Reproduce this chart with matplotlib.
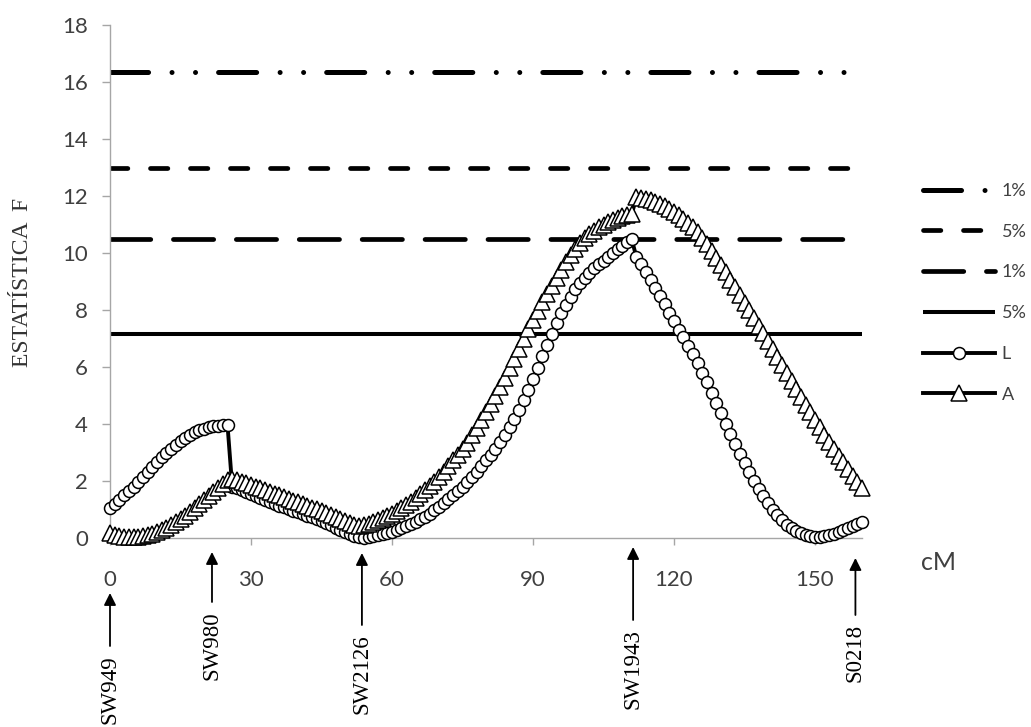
import matplotlib
matplotlib.use("Agg")
import matplotlib.pyplot as plt

plt.rcParams['font.family'] = ['Lato', 'DejaVu Sans']
plt.rcParams['lines.scale_dashes'] = False

# ---------------- data ----------------
cm = list(range(0, 161))

L_vals = [1.06, 1.2, 1.35, 1.5, 1.65, 1.8, 1.96, 2.13, 2.3, 2.48, 2.66, 2.83, 2.99, 3.14, 3.28,
          3.41, 3.52, 3.62, 3.71, 3.78, 3.84, 3.88, 3.92, 3.94, 3.96, 3.97,
          1.8, 1.74, 1.68, 1.62, 1.55, 1.48, 1.41, 1.34, 1.27, 1.2, 1.14, 1.08, 1.02, 0.96, 0.9,
          0.84, 0.78, 0.72, 0.65, 0.58, 0.51, 0.44, 0.36, 0.28, 0.2, 0.13, 0.07, 0.02, 0.01,
          0.03, 0.06, 0.09, 0.13, 0.17, 0.21, 0.27, 0.34, 0.41, 0.49, 0.57, 0.66, 0.74, 0.85,
          0.97, 1.1, 1.23, 1.36, 1.5, 1.64, 1.8, 1.97, 2.15, 2.33, 2.52, 2.72, 2.92, 3.13, 3.37,
          3.62, 3.88, 4.18, 4.5, 4.84, 5.2, 5.58, 5.98, 6.38, 6.78, 7.17, 7.54, 7.88, 8.19, 8.47,
          8.72, 8.94, 9.13, 9.3, 9.46, 9.6, 9.73, 9.85, 10.0, 10.13, 10.26, 10.38, 10.49,
          9.85, 9.6, 9.33, 9.06, 8.78, 8.5, 8.2, 7.9, 7.6, 7.3, 7.05, 6.75, 6.45, 6.13, 5.8, 5.46,
          5.1, 4.74, 4.37, 4.0, 3.64, 3.3, 2.95, 2.62, 2.3, 2.0, 1.72, 1.46, 1.22, 1.0, 0.8, 0.62,
          0.47, 0.34, 0.24, 0.16, 0.1, 0.06, 0.04, 0.04, 0.06, 0.1, 0.15, 0.21, 0.28, 0.35, 0.42,
          0.5, 0.57]

A_vals = [0.18, 0.12, 0.07, 0.04, 0.02, 0.02, 0.03, 0.06, 0.1, 0.15, 0.21, 0.28, 0.36, 0.45,
          0.55, 0.66, 0.78, 0.91, 1.04, 1.18, 1.32, 1.47, 1.62, 1.77, 1.91, 2.03, 2.07,
          2.03, 1.98, 1.92, 1.86, 1.8, 1.74, 1.68, 1.62, 1.56, 1.5, 1.44, 1.38, 1.31, 1.25, 1.19,
          1.13, 1.07, 1.01, 0.94, 0.88, 0.81, 0.74, 0.67, 0.6, 0.53, 0.47, 0.43,
          0.45, 0.5, 0.56, 0.62, 0.69, 0.77, 0.85, 0.95, 1.05, 1.16, 1.28, 1.4, 1.53, 1.67, 1.82,
          1.98, 2.15, 2.33, 2.52, 2.72, 2.92, 3.13, 3.35, 3.6, 3.87, 4.13, 4.41, 4.7, 5.0, 5.3,
          5.62, 5.95, 6.29, 6.64, 6.99, 7.33, 7.66, 7.98, 8.28, 8.57, 8.85, 9.12, 9.4, 9.68, 9.93,
          10.15, 10.35, 10.51, 10.65, 10.78, 10.9, 11.0, 11.09, 11.17, 11.24, 11.3, 11.35, 11.36,
          11.95, 11.93, 11.9, 11.86, 11.8, 11.73, 11.65, 11.55, 11.45, 11.33, 11.2, 11.05, 10.9,
          10.72, 10.52, 10.3, 10.07, 9.83, 9.58, 9.32, 9.06, 8.8, 8.53, 8.26, 7.99, 7.72, 7.45,
          7.18, 6.9, 6.62, 6.34, 6.06, 5.78, 5.5, 5.22, 4.95, 4.68, 4.41, 4.14, 3.88, 3.62, 3.37,
          3.12, 2.88, 2.65, 2.42, 2.19, 1.97, 1.75]

threshold_values = [16.35, 13.0, 10.5, 7.15]
threshold_labels = ['1%', '5%', '1%', '5%']
series_labels = ['L', 'A']

marker_names = ['SW949', 'SW980', 'SW2126', 'SW1943', 'S0218']
marker_pos = [0, 21.7, 53.6, 111.3, 158.6]

x_ticks = [0, 30, 60, 90, 120, 150]
y_ticks = [0, 2, 4, 6, 8, 10, 12, 14, 16, 18]

# ---------------- figure ----------------
W, H = 1031, 727
fig = plt.figure(figsize=(W / 100, H / 100), dpi=100)
ax = fig.add_axes([110 / W, 1 - 538 / H, (862 - 110) / W, (538 - 25) / H])

ax.set_xlim(0, 160)
ax.set_ylim(0, 18)

thr_styles = [
    dict(lw=3.6, dashes=[27.4, 16.9, 0.01, 16.9, 0.01, 16.6], dash_capstyle='round'),
    dict(lw=3.4, dashes=[12.5, 16.3], dash_capstyle='round'),
    dict(lw=3.4, dashes=[29.0, 16.3], dash_capstyle='round'),
    dict(lw=2.9, solid_capstyle='butt'),
]

handles = []
for v, st in zip(threshold_values, thr_styles):
    ln, = ax.plot([cm[0], cm[-1]], [v, v], color='black', zorder=2, **st)
    handles.append(ln)

lL, = ax.plot(cm, L_vals, color='black', lw=2.8, marker='o', ms=8.6, mfc='white',
              mec='black', mew=1.1, zorder=3, clip_on=False)
lA, = ax.plot(cm, A_vals, color='black', lw=2.8, marker='^', ms=11.0, mfc='white',
              mec='black', mew=1.1, zorder=4, clip_on=False)
handles += [lL, lA]

# axes styling
for s in ['top', 'right']:
    ax.spines[s].set_visible(False)
for s in ['left', 'bottom']:
    ax.spines[s].set_color('#a6a6a6')
    ax.spines[s].set_linewidth(1.0)
ax.set_xticks(x_ticks)
ax.set_yticks(y_ticks)
ax.tick_params(axis='y', direction='out', length=6, width=1, color='#a6a6a6',
               labelsize=16, labelcolor='#404040', pad=10)
ax.tick_params(axis='x', direction='out', length=5, width=1, color='#a6a6a6',
               labelsize=16, labelcolor='#404040', pad=18)

fig.text(23 / W, 1 - 282 / H, 'ESTATÍSTICA  F', rotation=90, ha='center', va='center',
         fontsize=17, family=['Liberation Serif', 'DejaVu Serif'], color='#333333')

fig.text(938 / W, 1 - 562 / H, 'cM', ha='center', va='center', fontsize=18, color='#404040')

# marker arrows
tips = [593, 552, 553, 547, 558]
tails = [646, 602, 625, 620, 615]
for name, pos, tip, tail in zip(marker_names, marker_pos, tips, tails):
    ax.annotate('', xy=(pos, H - tip), xycoords=('data', 'figure pixels'),
                xytext=(pos, H - tail), textcoords=('data', 'figure pixels'),
                arrowprops=dict(arrowstyle='-|>', color='black', lw=1.3,
                                mutation_scale=18, shrinkA=0, shrinkB=0),
                annotation_clip=False)
    ax.annotate(name, xy=(pos, H - tail - 9), xycoords=('data', 'figure pixels'),
                rotation=90, ha='center', va='top', fontsize=16.5,
                family=['Liberation Serif', 'DejaVu Serif'], color='black',
                annotation_clip=False)

fig.legend(handles, threshold_labels + series_labels, loc='upper left',
           bbox_to_anchor=(923 / W, 1 - 183 / H), frameon=False, fontsize=13,
           handlelength=4.0, handletextpad=0.35, labelspacing=1.37, borderpad=0,
           borderaxespad=0, labelcolor='#404040')

fig.savefig('out.png', dpi=100)
